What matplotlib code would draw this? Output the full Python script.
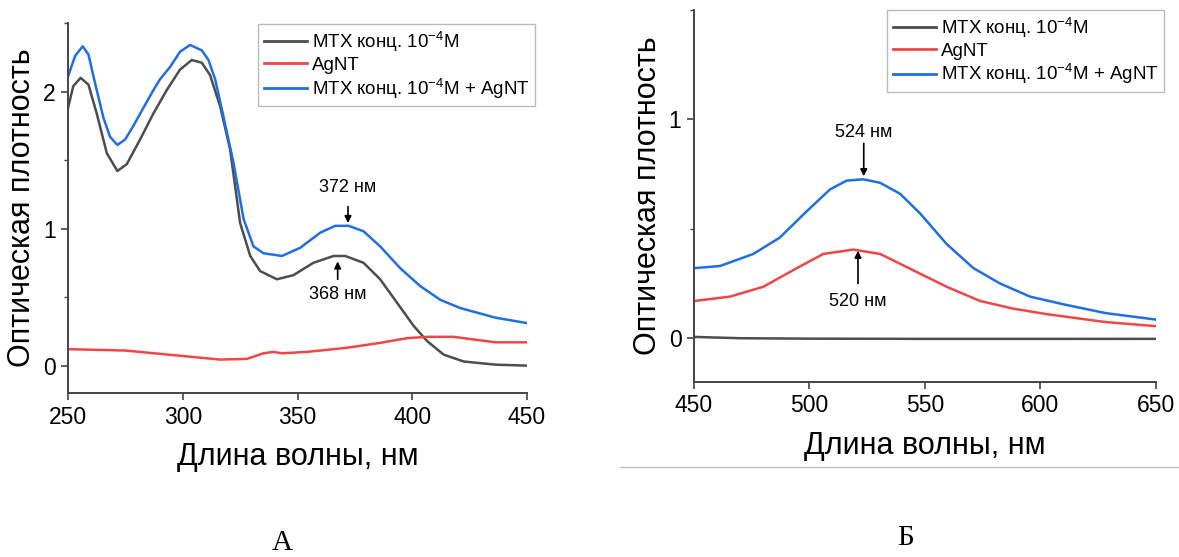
import matplotlib
matplotlib.use("Agg")
import matplotlib.pyplot as plt
from matplotlib.lines import Line2D
from matplotlib.ticker import MultipleLocator

plt.rcParams["font.family"] = ["Liberation Sans", "DejaVu Sans"]
plt.rcParams["mathtext.fontset"] = "custom"
plt.rcParams["mathtext.rm"] = "Liberation Sans"
plt.rcParams["mathtext.it"] = "Liberation Sans"

# Panel A: UV spectra 250-450 nm
wl_a_mix = [250, 253.1, 256.4, 258.9, 261.8, 265.4, 268.3, 271.5, 274.9, 278.5,
            282.8, 287.2, 290.1, 294.5, 298.8, 303.2, 308.3, 311.2, 314.1,
            317.7, 322.1, 326.5, 330.8, 335.2, 343.2, 351.2, 359.9, 366.4,
            372.2, 378.8, 386.0, 394.8, 403.5, 412.2, 420.9, 436.2, 450]
mix_a = [2.11, 2.26, 2.33, 2.27, 2.06, 1.81, 1.67, 1.61, 1.65, 1.75, 1.88,
         2.01, 2.09, 2.18, 2.29, 2.34, 2.30, 2.23, 2.09, 1.82, 1.48, 1.07,
         0.87, 0.82, 0.80, 0.86, 0.97, 1.02, 1.02, 0.98, 0.87, 0.71, 0.58,
         0.48, 0.42, 0.35, 0.31]
wl_a_mtx = [250, 252.3, 255.5, 258.9, 262.5, 266.9, 271.5, 275.6, 281.4, 287.2,
            293.0, 298.8, 303.9, 308.3, 311.9, 316.3, 320.6, 325.0, 329.4,
            333.7, 341.0, 348.2, 356.9, 365.7, 370.8, 378.8, 386.0, 393.3,
            400.6, 406.4, 413.7, 422.4, 436.2, 450]
mtx_a = [1.88, 2.04, 2.10, 2.05, 1.84, 1.55, 1.42, 1.47, 1.65, 1.84, 2.01,
         2.16, 2.23, 2.21, 2.12, 1.89, 1.58, 1.04, 0.80, 0.69, 0.63, 0.66,
         0.75, 0.80, 0.80, 0.75, 0.63, 0.46, 0.29, 0.18, 0.08, 0.03, 0.007,
         0.0]
wl_a_ag = [250, 275, 300, 316.3, 327.9, 335.2, 339.5, 343.2, 354.1, 371.5,
           386.0, 397.7, 406.4, 418.0, 436.2, 450]
ag_a = [0.12, 0.11, 0.07, 0.044, 0.049, 0.09, 0.10, 0.09, 0.10, 0.13, 0.166,
        0.20, 0.21, 0.21, 0.17, 0.17]

# Panel B: visible spectra 450-650 nm
wl_b_mix = [450, 461.3, 475.7, 487.2, 498.8, 508.9, 516.1, 523.3, 530.6, 539.2,
            547.9, 559.4, 571.0, 582.5, 595.5, 609.9, 628.0, 650]
mix_b = [0.32, 0.33, 0.385, 0.46, 0.58, 0.68, 0.72, 0.726, 0.71, 0.66, 0.57,
         0.43, 0.32, 0.25, 0.19, 0.155, 0.115, 0.085]
wl_b_ag = [450, 465.6, 480.0, 494.5, 506.0, 519.0, 530.6, 545.0, 559.4, 573.9,
           588.3, 602.7, 628.0, 650]
ag_b = [0.17, 0.19, 0.235, 0.32, 0.385, 0.405, 0.385, 0.31, 0.235, 0.17,
        0.135, 0.11, 0.074, 0.055]
wl_b_mtx = [450, 470, 500, 550, 600, 650]
mtx_b = [0.006, 0.0, -0.002, -0.003, -0.003, -0.003]

labels = ["MTX конц. 10$^{-4}$M", "AgNT", "MTX конц. 10$^{-4}$M + AgNT"]
colors = ["#4d4d4d", "#f04646", "#1f6fe0"]

fig = plt.figure(figsize=(11.79, 5.57), dpi=100)
ax_a = fig.add_axes([0.0577, 0.2944, 0.3893, 0.6643])
ax_b = fig.add_axes([0.5886, 0.3142, 0.3919, 0.668])


def style_axes(ax, xlim, ylim, xticks, yticks):
    ax.set_xlim(*xlim)
    ax.set_ylim(*ylim)
    ax.set_xticks(xticks)
    ax.set_yticks(yticks)
    ax.yaxis.set_minor_locator(MultipleLocator(0.5))
    for side in ("top", "right"):
        ax.spines[side].set_visible(False)
    for side in ("left", "bottom"):
        ax.spines[side].set_color("#444444")
        ax.spines[side].set_linewidth(1.4)
    ax.tick_params(which="major", direction="out", length=5, width=1.2,
                   color="#444444", labelsize=16.5, pad=4)
    ax.tick_params(which="minor", direction="out", length=3, width=1.0,
                   color="#444444")
    ax.set_xlabel("Длина волны, нм", fontsize=22, labelpad=10)
    ax.set_ylabel("Оптическая плотность", fontsize=22, labelpad=4)


def add_legend(ax, loc_box):
    handles = [Line2D([], [], color=c, lw=2) for c in colors]
    leg = ax.legend(handles, labels, loc="upper left", bbox_to_anchor=loc_box,
                    fontsize=13.5, frameon=True, fancybox=False,
                    handlelength=2.3, handletextpad=0.27, labelspacing=0.15,
                    borderpad=0.3, borderaxespad=0)
    leg.get_frame().set_edgecolor("#aaaaaa")
    leg.get_frame().set_linewidth(1.0)


def arrow(ax, x, y0, y1, text, ty):
    ax.annotate("", xy=(x, y1), xytext=(x, y0),
                arrowprops=dict(arrowstyle="-|>", color="black", lw=1.2,
                                mutation_scale=10, shrinkA=0, shrinkB=0))
    ax.text(x, ty, text, ha="center", va="center", fontsize=13)


# Panel A
ax_a.plot(wl_a_mtx, mtx_a, color=colors[0], lw=1.8)
ax_a.plot(wl_a_ag, ag_a, color=colors[1], lw=1.8)
ax_a.plot(wl_a_mix, mix_a, color=colors[2], lw=1.8)
style_axes(ax_a, (250, 450), (-0.2, 2.5), [250, 300, 350, 400, 450], [0, 1, 2])
add_legend(ax_a, (0.414, 0.997))
arrow(ax_a, 372, 1.16, 1.04, "372 нм", 1.30)
arrow(ax_a, 367.5, 0.63, 0.76, "368 нм", 0.52)

# Panel B
ax_b.plot(wl_b_mtx, mtx_b, color=colors[0], lw=1.8)
ax_b.plot(wl_b_ag, ag_b, color=colors[1], lw=1.8)
ax_b.plot(wl_b_mix, mix_b, color=colors[2], lw=1.8)
style_axes(ax_b, (450, 650), (-0.2, 1.5), [450, 500, 550, 600, 650], [0, 1])
add_legend(ax_b, (0.418, 1.0))
arrow(ax_b, 523.5, 0.89, 0.74, "524 нм", 0.94)
arrow(ax_b, 521, 0.25, 0.40, "520 нм", 0.17)

# separator line under panel B and panel letters
fig.add_artist(Line2D([620 / 1179, 1.0], [1 - 467 / 557, 1 - 467 / 557],
                      color="#bbbbbb", lw=1.0))
fig.text(282 / 1179, 1 - 543 / 557, "А", family=["Liberation Serif"],
         fontsize=21, ha="center", va="center")
fig.text(906 / 1179, 1 - 538 / 557, "Б", family=["Liberation Serif"],
         fontsize=21, ha="center", va="center")

fig.savefig("out.png", dpi=100)
plt.close(fig)
